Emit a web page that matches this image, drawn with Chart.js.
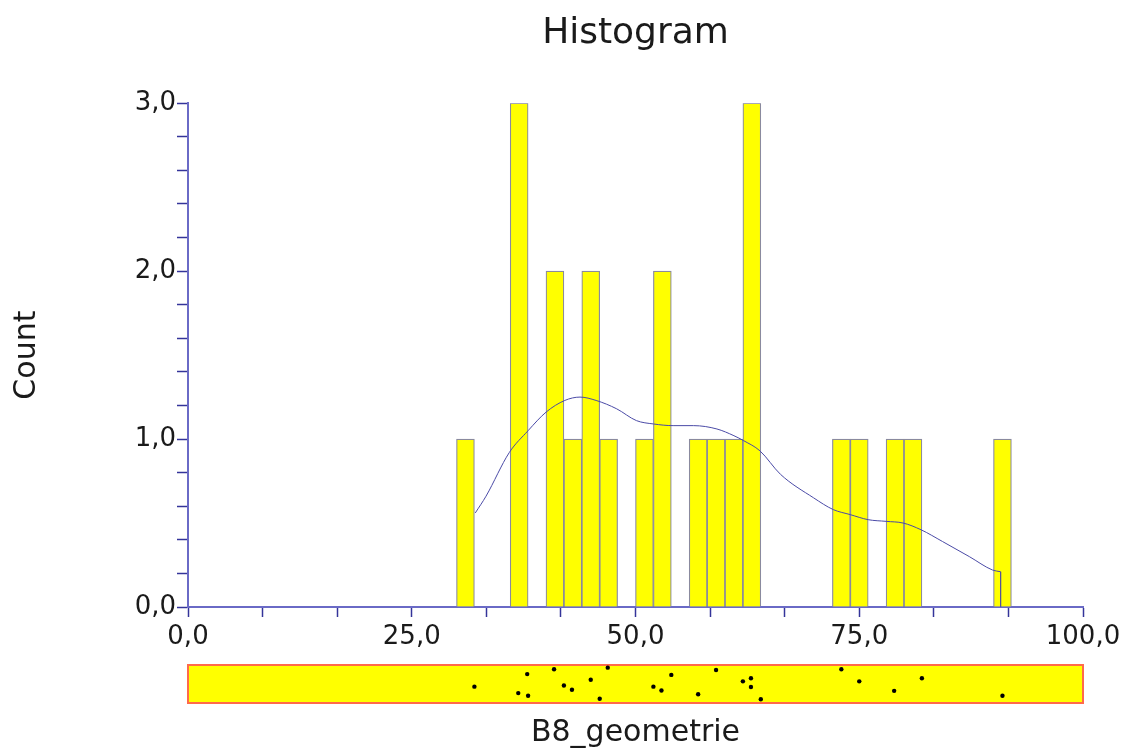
<!DOCTYPE html>
<html>
<head>
<meta charset="utf-8">
<script src="https://cdn.jsdelivr.net/npm/chart.js@4.4.1/dist/chart.umd.min.js"></script>
<style>
  html, body { margin: 0; padding: 0; background: #ffffff; }
  #wrap { position: relative; width: 1126px; height: 752px; overflow: hidden; background: #fff; }
  #main { position: absolute; left: 0; top: 0; }
  #rug { position: absolute; left: 0; top: 655px; }
</style>
</head>
<body>
<div id="wrap">
  <canvas id="main" width="1126" height="660"></canvas>
  <canvas id="rug" width="1126" height="97"></canvas>
</div>
<script>
// ---- Data ----
const binWidth = 2;
const binStarts = [30, 36, 40, 42, 44, 46, 50, 52, 56, 58, 60, 62, 72, 74, 78, 80, 90];
const binCounts = [ 1,  3,  2,  1,  2,  1,  1,  2,  1,  1,  1,  3,  1,  1,  1,  1,  1];

// smoothed density curve (scaled to counts)
const curveX = [32.1, 33.3, 35.9, 38.0, 40.0, 42.1, 43.8, 45.6, 47.9, 50.1, 52.0, 54.2, 56.5, 59.1, 61.0, 62.1, 63.9, 66.2, 69.9, 72.1, 74.0, 76.0, 78.0, 79.9, 81.9, 84.3, 87.3, 89.9, 90.8];
const curveY = [0.56, 0.66, 0.92, 1.05, 1.16, 1.23, 1.25, 1.23, 1.18, 1.11, 1.09, 1.08, 1.08, 1.06, 1.02, 0.99, 0.93, 0.79, 0.65, 0.58, 0.55, 0.52, 0.51, 0.50, 0.46, 0.39, 0.30, 0.22, 0.21];
const curveEndX = [90.8, 90.8];
const curveEndY = [0.21, 0];

// individual observations (rug plot), with vertical jitter (0 = top, 1 = bottom)
const rugX = [32.0, 37.9, 40.9, 36.9, 38.0, 42.0, 42.9, 45.0, 46.9, 46.0, 54.0, 52.0, 52.9, 57.0, 59.0, 62.0, 62.9, 62.9, 64.0, 73.0, 75.0, 82.0, 78.9, 91.0];
const rugJitter = [0.57, 0.24, 0.11, 0.74, 0.81, 0.54, 0.65, 0.39, 0.07, 0.89, 0.26, 0.57, 0.67, 0.77, 0.13, 0.43, 0.35, 0.58, 0.90, 0.11, 0.43, 0.35, 0.68, 0.81];

const xMajorTicks = [0, 25, 50, 75, 100];
const xMinorPerMajor = 3;
const yMajorTicks = [0, 1, 2, 3];
const yMinorPerMajor = 5;

const titleText = 'Histogram';
const yTitle = 'Count';
const xTitle = 'B8_geometrie';

// ---- Build structures ----
const barData = binStarts.map((s, i) => ({ x: s + binWidth / 2, y: binCounts[i] }));
const curveData = curveX.map((x, i) => ({ x: x, y: curveY[i] }));
const curveEnd = curveEndX.map((x, i) => ({ x: x, y: curveEndY[i] }));
const rugData = rugX.map((x, i) => ({ x: x, y: rugJitter[i] }));

function withMinors(majors, n) {
  const out = [];
  for (let i = 0; i < majors.length; i++) {
    out.push(majors[i]);
    if (i < majors.length - 1) {
      const step = (majors[i + 1] - majors[i]) / n;
      for (let k = 1; k < n; k++) out.push(majors[i] + step * k);
    }
  }
  return out;
}
const xTickValues = withMinors(xMajorTicks, xMinorPerMajor);
const yTickValues = withMinors(yMajorTicks, yMinorPerMajor);

function fmt(v, majors) {
  for (const m of majors) if (Math.abs(v - m) < 1e-6) return m.toFixed(1).replace('.', ',');
  return '';
}

const FONT = 'DejaVu Sans';
const TEXT = '#1a1a1a';
const AXIS = '#6a6ac6';
const TICK = '#34349a';

new Chart(document.getElementById('main'), {
  type: 'bar',
  data: {
    datasets: [
      {
        type: 'line', data: curveData, order: 0,
        borderColor: '#4a4aa6', borderWidth: 1, cubicInterpolationMode: 'monotone',
        pointRadius: 0, fill: false
      },
      {
        type: 'line', data: curveEnd, order: 0,
        borderColor: '#4a4aa6', borderWidth: 1.2, tension: 0, pointRadius: 0, fill: false
      },
      {
        type: 'bar', data: barData, order: 1,
        backgroundColor: '#ffff00', borderColor: '#8a8a9e', borderWidth: 1.2,
        categoryPercentage: 1.0, barPercentage: 1.0
      }
    ]
  },
  options: {
    responsive: false, animation: false, devicePixelRatio: 1,
    layout: { padding: { left: 0, right: 43, top: 0, bottom: 0 } },
    plugins: {
      legend: { display: false }, tooltip: { enabled: false },
      title: {
        display: true, fullSize: false, text: titleText, color: TEXT,
        font: { family: FONT, size: 36, weight: 'normal' },
        padding: { top: 12, bottom: 48 }
      }
    },
    scales: {
      x: {
        type: 'linear', position: 'bottom', min: 0, max: 100, offset: false,
        afterBuildTicks: s => { s.ticks = xTickValues.map(v => ({ value: v })); },
        afterFit: s => { s.height = 53; },
        ticks: {
          autoSkip: false, maxRotation: 0, minRotation: 0, padding: 5, color: TEXT,
          font: { family: FONT, size: 26 },
          callback: v => fmt(v, xMajorTicks)
        },
        grid: { offset: false, drawOnChartArea: false, drawTicks: true, tickLength: 10, tickColor: TICK, tickWidth: 1.5 },
        border: { display: true, color: AXIS, width: 2 }
      },
      y: {
        type: 'linear', position: 'left', min: 0, max: 3,
        afterBuildTicks: s => { s.ticks = yTickValues.map(v => ({ value: v })); },
        afterFit: s => { s.width = 188; },
        ticks: {
          autoSkip: false, padding: 1, color: TEXT,
          font: { family: FONT, size: 26 },
          callback: v => fmt(v, yMajorTicks)
        },
        grid: { drawOnChartArea: false, drawTicks: true, tickLength: 11, tickColor: TICK, tickWidth: 1.5 },
        border: { display: true, color: AXIS, width: 2 },
        title: {
          display: true, text: yTitle, color: TEXT,
          font: { family: FONT, size: 30, weight: 'normal' },
          padding: { top: 9, bottom: 0 }
        }
      }
    }
  }
});

const rugBox = {
  id: 'rugBox',
  beforeDatasetsDraw(chart) {
    const a = chart.chartArea, ctx = chart.ctx;
    ctx.save();
    ctx.fillStyle = '#ffff00';
    ctx.fillRect(a.left, a.top, a.right - a.left, a.bottom - a.top);
    ctx.strokeStyle = '#ff6a4a';
    ctx.lineWidth = 2;
    ctx.strokeRect(a.left, a.top, a.right - a.left, a.bottom - a.top);
    ctx.restore();
  }
};

new Chart(document.getElementById('rug'), {
  type: 'scatter',
  data: {
    datasets: [{
      data: rugData, pointRadius: 2.2, pointBackgroundColor: '#000', pointBorderWidth: 0,
      pointStyle: 'circle'
    }]
  },
  options: {
    responsive: false, animation: false, devicePixelRatio: 1,
    layout: { padding: { left: 188, right: 43, top: 10, bottom: 0 } },
    plugins: { legend: { display: false }, tooltip: { enabled: false } },
    scales: {
      x: {
        type: 'linear', min: 0, max: 100,
        afterFit: s => { s.height = 49; },
        ticks: { display: false },
        grid: { display: false, drawTicks: false },
        border: { display: false },
        title: {
          display: true, text: xTitle, color: TEXT,
          font: { family: FONT, size: 30, weight: 'normal' },
          padding: { top: 0, bottom: 1 }
        }
      },
      y: { type: 'linear', min: 0, max: 1, reverse: true, display: false }
    }
  },
  plugins: [rugBox]
});
</script>
</body>
</html>
